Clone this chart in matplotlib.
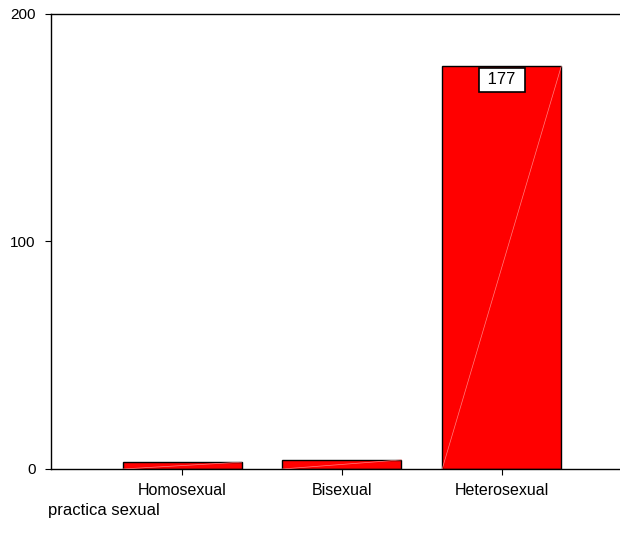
import matplotlib.pyplot as plt
import numpy as np

plt.rcParams['font.family'] = ['Liberation Sans', 'DejaVu Sans']

categorias = ['Homosexual', 'Bisexual', 'Heterosexual']
frecuencias = [3, 4, 177]
etiquetas = {2: '177'}

fig = plt.figure(figsize=(6.2, 5.48), dpi=100)
ax = fig.add_axes([0.0823, 0.1442, 0.9177, 0.8303])

x = np.arange(len(categorias))
ancho = 0.745
ax.bar(x, frecuencias, width=ancho, color='#ff0000', edgecolor='black', linewidth=1, zorder=2)

# reflejo diagonal dentro de cada barra
for xi, v in zip(x, frecuencias):
    ax.plot([xi - ancho / 2, xi + ancho / 2], [0, v], color='#ff8080', lw=0.5, zorder=3)

for i, txt in etiquetas.items():
    ax.text(x[i], frecuencias[i] - 6, ' ' + txt + ' ', ha='center', va='center', fontsize=12,
            bbox=dict(boxstyle='square,pad=0.28', fc='white', ec='black', lw=1.2), zorder=4)

ax.set_xlim(-0.82, 2.74)
ax.set_ylim(0, 200)
ax.set_yticks([0, 100, 200])
ax.set_xticks(x)
ax.set_xticklabels(categorias, fontsize=11.5)
ax.tick_params(axis='y', labelsize=11, length=4, direction='out', pad=7)
ax.tick_params(axis='x', length=4, direction='out', pad=6)
ax.spines['right'].set_visible(False)
for s in ['left', 'top', 'bottom']:
    ax.spines[s].set_linewidth(1)

fig.text(48 / 620, 1 - 511 / 548, 'practica sexual', fontsize=12, ha='left', va='center')

fig.savefig('out.png', dpi=100)
